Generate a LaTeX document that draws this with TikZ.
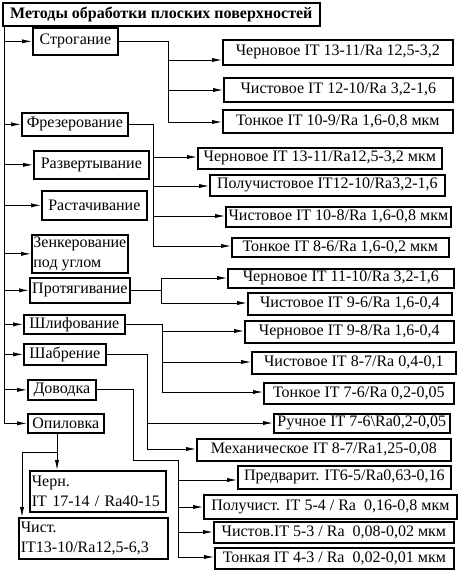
\documentclass[tikz,border=0pt]{standalone}
\usepackage{fontspec}
\setmainfont{Liberation Serif}
\usetikzlibrary{arrows.meta}
\tikzset{
  bx/.style={draw,line width=1.7pt,inner sep=0.5pt,font=\fontsize{16}{19.5}\selectfont,anchor=north west},
  ttl/.style={font=\fontsize{16}{19.5}\selectfont\bfseries},
  ln/.style={line width=0.9pt},
  arr/.style={line width=0.9pt,-{Latex[length=10pt,width=4.2pt]}}
}
\newcommand{\mybox}[7][]{\node[bx,#1,minimum width={#5-#3},minimum height={#6-#4}] (#2) at (#3,#4) {#7};}
\begin{document}
\begin{tikzpicture}[x=1pt,y=-1pt]
\useasboundingbox[fill=white] (0,0) rectangle (458,571);
% title
\mybox[ttl]{title}{2}{2}{319}{25}{Методы обработки плоских поверхностей}
% left column
\mybox{strog}{32}{27}{117}{54}{Строгание}
\mybox{frez}{21}{112}{127}{135}{Фрезерование}
\mybox{razv}{33}{150}{148}{178}{Развертывание}
\mybox{rast}{41}{190}{146}{219}{Растачивание}
\mybox[align=left]{zenk}{31}{234}{127}{272}{Зенкерование\\под углом}
\mybox{prot}{29}{277}{129}{302}{Протягивание}
\mybox{shlif}{23}{314}{124}{333}{Шлифование}
\mybox{shab}{23}{343}{105}{364}{Шабрение}
\mybox{dov}{27}{379}{95}{399}{Доводка}
\mybox{opil}{27}{413}{103}{432}{Опиловка}
\mybox[align=left,text width=132pt]{chern}{29}{470}{165}{511}{Черн.\\IT 17-14 / Ra40-15}
\mybox[align=left,text width=145pt]{chist}{18}{517}{167}{558}{Чист.\\IT13-10/Ra12,5-6,3}
% right column
\mybox{s1}{222}{39}{452}{64}{Черновое IT 13-11/Ra 12,5-3,2}
\mybox{s2}{223}{77}{452}{101}{Чистовое IT 12-10/Ra 3,2-1,6}
\mybox{s3}{222}{109}{452}{132}{Тонкое IT 10-9/Ra 1,6-0,8 мкм}
\mybox{f1}{197}{147}{441}{168}{Черновое IT 13-11/Ra12,5-3,2 мкм}
\mybox{f2}{209}{174}{444}{195}{Получистовое IT12-10/Ra3,2-1,6}
\mybox{f3}{225}{206}{450}{226}{Чистовое IT 10-8/Ra 1,6-0,8 мкм}
\mybox{f4}{231}{237}{448}{256}{Тонкое IT 8-6/Ra 1,6-0,2 мкм}
\mybox{p1}{227}{268}{453}{287}{Черновое IT 11-10/Ra 3,2-1,6}
\mybox{p2}{247}{292}{451}{314}{Чистовое IT 9-6/Ra 1,6-0,4}
\mybox{h1}{244}{320}{453}{342}{Черновое IT 9-8/Ra 1,6-0,4}
\mybox{h2}{251}{351}{455}{373}{Чистовое IT 8-7/Ra 0,4-0,1}
\mybox{h3}{263}{382}{453}{403}{Тонкое IT 7-6/Ra 0,2-0,05}
\mybox{b1}{273}{413}{449}{432}{Ручное IT 7-6\textbackslash Ra0,2-0,05}
\mybox{b2}{196}{438}{450}{460}{Механическое IT 8-7/Ra1,25-0,08}
\mybox{d1}{237}{465}{450}{488}{Предварит. IT6-5/Ra0,63-0,16}
\mybox{d2}{203}{494}{456}{518}{Получист. IT 5-4 / Ra\ \ 0,16-0,8 мкм}
\mybox{d3}{213}{521}{453}{542}{Чистов.IT 5-3 / Ra\ \ 0,08-0,02 мкм}
\mybox{d4}{214}{547}{453}{568}{Тонкая IT 4-3 / Ra\ \ 0,02-0,01 мкм}
% trunk
\coordinate (T0) at (4,25);
\draw[arr] (T0) |- (opil.west);
\foreach \n in {strog,frez,razv,rast,zenk,prot,shlif,shab,dov}
  \draw[arr] (T0 |- \n.west) -- (\n.west);
% Строгание
\coordinate (sa1) at (168,60);
\coordinate (sa2) at (168,90);
\coordinate (sa3) at (168,122);
\draw[ln] (strog.east) -| (sa3);
\draw[arr] (sa1) -- (sa1 -| s1.west);
\draw[arr] (sa2) -- (sa2 -| s2.west);
\draw[arr] (sa3) -- (sa3 -| s3.west);
% Фрезерование
\coordinate (fa1) at (153,157);
\coordinate (fa2) at (153,186);
\coordinate (fa3) at (153,216);
\coordinate (fa4) at (153,246);
\draw[ln] (frez.east) -| (fa4);
\draw[arr] (fa1) -- (fa1 -| f1.west);
\draw[arr] (fa2) -- (fa2 -| f2.west);
\draw[arr] (fa3) -- (fa3 -| f3.west);
\draw[arr] (fa4) -- (fa4 -| f4.west);
% Протягивание
\coordinate (pa1) at (161,278);
\coordinate (pa2) at (161,303);
\draw[ln] (pa1) -- (pa2);
\draw[ln] (prot.east) -- (prot.east -| pa1);
\draw[arr] (pa1) -- (pa1 -| p1.west);
\draw[arr] (pa2) -- (pa2 -| p2.west);
% Шлифование
\coordinate (ha1) at (162,331);
\coordinate (ha2) at (162,362);
\coordinate (ha3) at (162,392);
\draw[ln] (shlif.east) -| (ha3);
\draw[arr] (ha1) -- (ha1 -| h1.west);
\draw[arr] (ha2) -- (ha2 -| h2.west);
\draw[arr] (ha3) -- (ha3 -| h3.west);
% Шабрение
\coordinate (ba1) at (147,423);
\coordinate (ba2) at (147,449);
\draw[ln] (shab.east) -| (ba2);
\draw[arr] (ba1) -- (ba1 -| b1.west);
\draw[arr] (ba2) -- (ba2 -| b2.west);
% Доводка
\coordinate (dv) at (133,460);
\coordinate (da1) at (178,480);
\coordinate (da2) at (178,507);
\coordinate (da3) at (178,532);
\coordinate (da4) at (178,557);
\draw[ln] (dov.east) -| (dv) -| (da4);
\draw[arr] (da1) -- (da1 -| d1.west);
\draw[arr] (da2) -- (da2 -| d2.west);
\draw[arr] (da3) -- (da3 -| d3.west);
\draw[arr] (da4) -- (da4 -| d4.west);
% Опиловка
\coordinate (ob) at (57,452);
\coordinate (oc) at (22,452);
\draw[arr] (ob |- opil.south) -- (ob |- chern.north);
\draw[arr] (ob) -- (oc) -- (oc |- chist.north);
\end{tikzpicture}
\end{document}
